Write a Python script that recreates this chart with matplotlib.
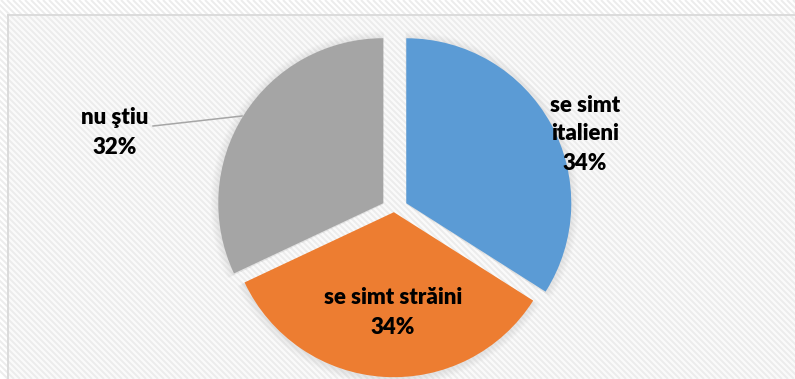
import matplotlib
matplotlib.use("Agg")
import matplotlib.pyplot as plt
import numpy as np
from matplotlib.patches import Rectangle, Wedge

# Survey answers, in drawing order (clockwise from 12 o'clock)
categories = ["se simt italieni", "se simt străini", "nu ştiu"]
label_lines = [["se simt", "italieni"], ["se simt străini"], ["nu ştiu"]]
shares = [34, 34, 32]
colors = ["#5B9BD5", "#ED7D31", "#A5A5A5"]
# pull-out distance of each slice (pixels)
explode = [14, 2.2, 12.7]

W, H = 795, 379
fig = plt.figure(figsize=(W / 100, H / 100), dpi=100)
fig.patch.set_facecolor("white")
ax = fig.add_axes([0, 0, 1, 1])

# chart area: light diagonal stripes with a thin grey frame
x0, y_top = 8, H - 15
area = Rectangle((x0, -10), W + 10 - x0, y_top + 10, facecolor="#fafafa",
                 edgecolor="none", zorder=0)
ax.add_patch(area)
step = 6.0
for c in np.arange(x0 - H, W + H, step):
    ax.plot([c, c + H], [H, 0], color="#ececec", lw=1.4, zorder=0.5,
            solid_capstyle="butt", clip_path=area)
ax.plot([x0, x0], [0, y_top], color="#d9d9d9", lw=1.3, zorder=1)
ax.plot([x0, W], [y_top, y_top], color="#d9d9d9", lw=1.3, zorder=1)

cx, cy, r = 394, 169, 165

# soft shadow behind each slice
theta = 90.0
for v, e in zip(shares, explode):
    span = v / sum(shares) * 360
    t1, t2 = theta - span, theta
    mid = np.deg2rad((t1 + t2) / 2)
    ox, oy = cx + e * np.cos(mid), cy + e * np.sin(mid)
    for k in range(1, 8):
        ax.add_patch(Wedge((ox, oy - 1.0), r + k * 1.1, t1 - 0.2, t2 + 0.2,
                           facecolor="#808080", edgecolor="none",
                           alpha=0.02, zorder=1.5))
    theta = t1

wedges, _ = ax.pie(shares, colors=colors, explode=explode, startangle=90,
                   counterclock=False, center=(cx, cy), radius=r, frame=True,
                   wedgeprops=dict(linewidth=0, zorder=2))
ax.set_xlim(0, W)
ax.set_ylim(0, H)
ax.set_aspect("equal")
ax.axis("off")

font = dict(family=["Lato", "DejaVu Sans"], fontweight="heavy", fontsize=16,
            color="black", ha="center", va="center", zorder=4)

# label anchor points (first line) and line spacing
label_pos = [(585, 274), (393, 81), (115, 261)]
line_gap = 29
for lines, v, (lx, ly) in zip(label_lines, shares, label_pos):
    for i, txt in enumerate(lines + [f"{v}%"]):
        ax.text(lx, ly - i * line_gap, txt, **font)

# leader line for the grey slice label
ax.plot([153, 242], [253, 263], color="#a6a6a6", lw=1.1, zorder=3)

fig.savefig("out.png", dpi=100, facecolor="white")
